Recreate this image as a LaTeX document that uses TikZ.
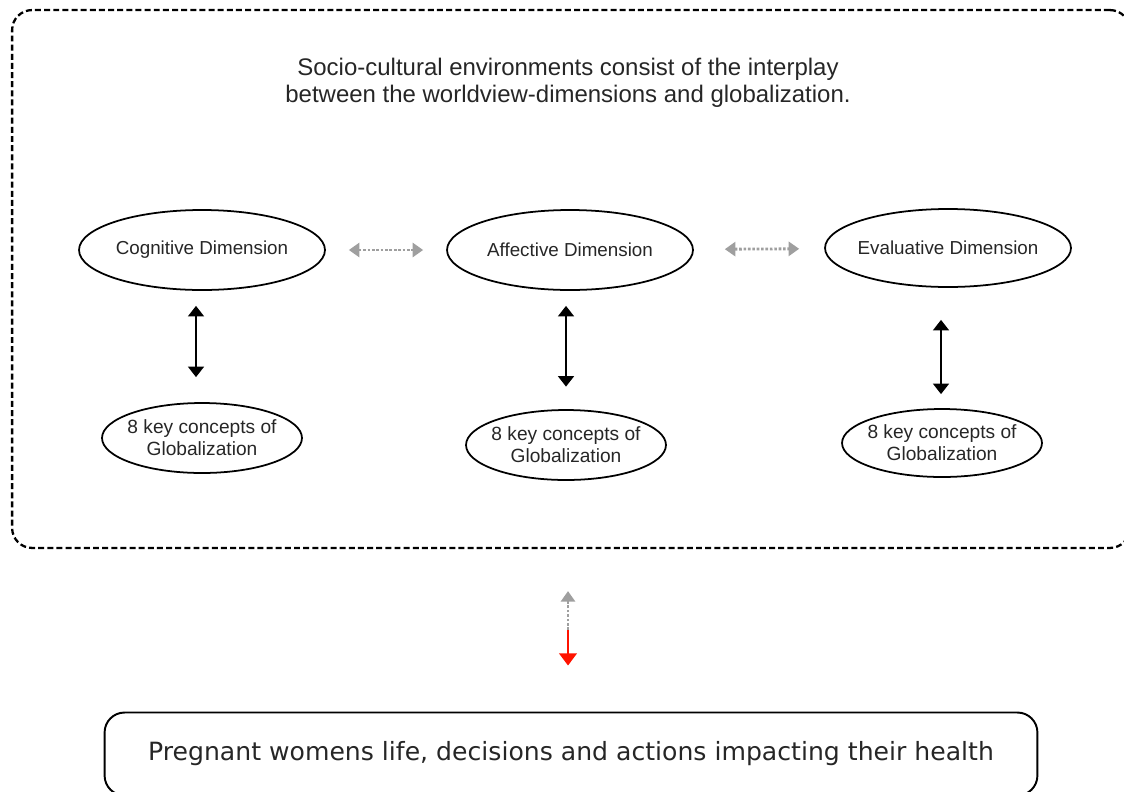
\documentclass[tikz,border=0pt]{standalone}
\usepackage{fontspec}
\setmainfont{Liberation Sans}
\newfontfamily\lowfont{DejaVu Sans}
\usetikzlibrary{arrows.meta,shapes.geometric}

\begin{document}
\begin{tikzpicture}[x=0.02cm,y=-0.02cm,
    dimnode/.style={draw,line width=1pt,ellipse,inner xsep=-2pt,inner ysep=0pt,minimum width=4.92cm,minimum height=1.6cm,text=black!85,font=\fontsize{10.7}{12}\selectfont},
    keynode/.style={draw,line width=1pt,ellipse,inner xsep=-3pt,inner ysep=0pt,minimum width=4cm,minimum height=1.4cm,align=center,text=black!85,font=\fontsize{10.9}{12.5}\selectfont},
    linkarrow/.style={gray!75,line width=1.6pt,dash pattern=on 1.5pt off 1pt,{Triangle[width=8pt,length=6pt]}-{Triangle[width=8pt,length=6pt]}},
    keyarrow/.style={line width=1.3pt,{Triangle[width=9pt,length=6pt]}-{Triangle[width=9pt,length=6pt]}}
  ]
  \useasboundingbox (0,0) rectangle (1124,791);

  % outer frame and its caption
  \node[draw,line width=1.3pt,dash pattern=on 3.4pt off 1.8pt,rounded corners=0.4cm,
        minimum width=22.36cm,minimum height=10.76cm,inner sep=0pt] (frame) at (571,279) {};
  \node[align=center,text=black!85,font=\fontsize{13.65}{15.3}\selectfont] (caption) at (568,83)
    {Socio-cultural environments consist of the interplay\\between the worldview-dimensions and globalization.};

  % worldview dimensions
  \node[dimnode] (cog) at (202,250) {Cognitive Dimension};
  \node[dimnode] (aff) at (570,250) {Affective Dimension};
  \node[dimnode,minimum height=1.56cm] (eva) at (948,248) {Evaluative Dimension};

  % globalization concepts
  \node[keynode] (cogkey) at (202,438) {8 key concepts of\\Globalization};
  \node[keynode] (affkey) at (566,445) {8 key concepts of\\Globalization};
  \node[keynode,minimum height=1.36cm] (evakey) at (942,443) {8 key concepts of\\Globalization};

  \draw[linkarrow,shorten <=0.46cm,shorten >=0.46cm] (cog) -- (aff);
  \draw[linkarrow,shorten <=0.62cm,shorten >=0.5cm] (aff) -- (eva);

  \draw[keyarrow,shorten <=0.3cm,shorten >=0.5cm] (cog.south -| 196,0) -- (cogkey.north -| 196,0);
  \draw[keyarrow,shorten <=0.3cm,shorten >=0.45cm] (aff.south -| 566,0) -- (affkey.north);
  \draw[keyarrow,shorten <=0.64cm,shorten >=0.28cm] (eva.south -| 941,0) -- (evakey.north -| 941,0);

  % outcome
  \node[draw,line width=1.1pt,rounded corners=0.4cm,minimum width=18.66cm,minimum height=1.66cm,
        inner sep=0pt,text=black!85,font=\lowfont\fontsize{14.3}{16}\selectfont] (health) at (571,754)
    {Pregnant womens life, decisions and actions impacting their health};

  \coordinate (mid) at (568,630);
  \draw[gray!75,line width=1.6pt,dash pattern=on 1.5pt off 1pt,-{Triangle[width=8pt,length=6pt]},shorten >=0.84cm]
    (mid) -- (mid |- frame.south);
  \draw[red!85!orange,line width=1.5pt,-{Triangle[width=10pt,length=7pt]},shorten >=0.92cm]
    (mid) -- (mid |- health.north);
\end{tikzpicture}
\end{document}
